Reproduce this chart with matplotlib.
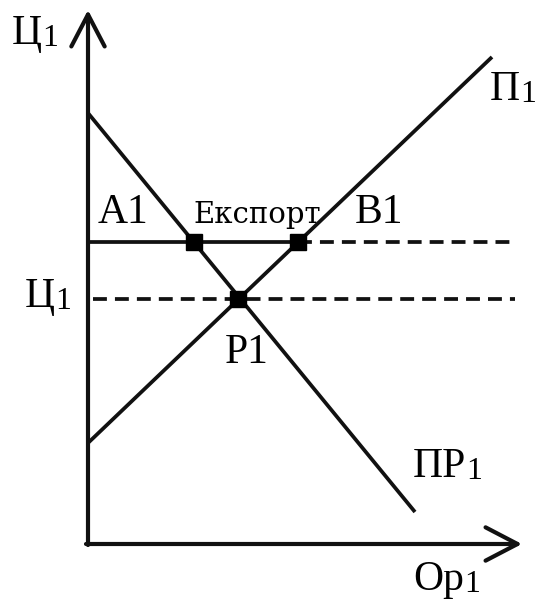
import matplotlib
matplotlib.use("Agg")
import matplotlib.pyplot as plt

plt.rcParams['font.family'] = ['Liberation Serif', 'DejaVu Serif']
plt.rcParams['lines.scale_dashes'] = False

# схема: попит / пропозиція, ціни та обсяги в умовних одиницях
demand_q = [0.0, 32.7]       # ПР1
demand_p = [43.1, 3.2]
supply_q = [0.0, 40.4]       # П1
supply_p = [10.1, 48.7]

eq_q, eq_p = 15.0, 24.5      # P1
world_p = 30.2               # світова ціна
export_q = [10.6, 21.0]      # A1 .. B1
line_end_q = 42.7
axis_q_max, axis_p_max = 43.4, 53.4

fs_big = 30
fs_sub = 23
ink = '#111111'
lw_line = 2.7

fig = plt.figure(figsize=(5.39, 6.0), dpi=100)
ax = fig.add_axes([0, 0, 1, 1])
ax.set_xlim(-8.8, 45.1)
ax.set_ylim(-5.6, 54.4)
ax.axis('off')

# осі зі стрілками
arrow = dict(arrowstyle='->,head_length=2.3,head_width=1.2', lw=3.0,
             color=ink, shrinkA=0, shrinkB=0, mutation_scale=10)
ax.annotate('', xy=(0, axis_p_max), xytext=(0, -0.1), arrowprops=arrow)
ax.annotate('', xy=(axis_q_max, 0), xytext=(-0.2, 0), arrowprops=arrow)

# попит і пропозиція
ax.plot(demand_q, demand_p, color=ink, lw=lw_line, solid_capstyle='butt')
ax.plot(supply_q, supply_p, color=ink, lw=lw_line, solid_capstyle='butt')

# світова ціна: суцільна до B1, далі пунктир
ax.plot([0, export_q[1]], [world_p, world_p], color=ink, lw=lw_line)
ax.plot([export_q[1], line_end_q], [world_p, world_p], color=ink, lw=lw_line,
        dashes=(10, 5.8))
# рівноважна ціна
ax.plot([0.5, line_end_q], [eq_p, eq_p], color=ink, lw=lw_line, dashes=(10, 5.8))

ax.plot(export_q, [world_p, world_p], 's', color='black', ms=11)
ax.plot([eq_q], [eq_p], 's', color='black', ms=12)


def label(x, y, main, sub='', size=fs_big, family=None):
    t = ax.text(x, y, main, fontsize=size, va='baseline', ha='left',
                color='black', family=family)
    if sub:
        ax.annotate(sub, xy=(1, 0), xycoords=t, va='bottom', ha='left',
                    fontsize=fs_sub, color='black')
    return t


label(-7.6, 50.0, 'Ц', '1')
label(40.2, 44.4, 'П', '1')
label(1.0, 32.1, 'A1')
label(10.5, 32.1, 'Експорт', size=21, family=['DejaVu Serif'])
label(26.7, 32.1, 'B1')
label(-6.3, 23.7, 'Ц', '1')
label(13.7, 18.1, 'P1')
label(32.5, 6.7, 'ПР', '1')
label(32.5, -4.6, 'Ор', '1')

fig.savefig('out.png', dpi=100)
